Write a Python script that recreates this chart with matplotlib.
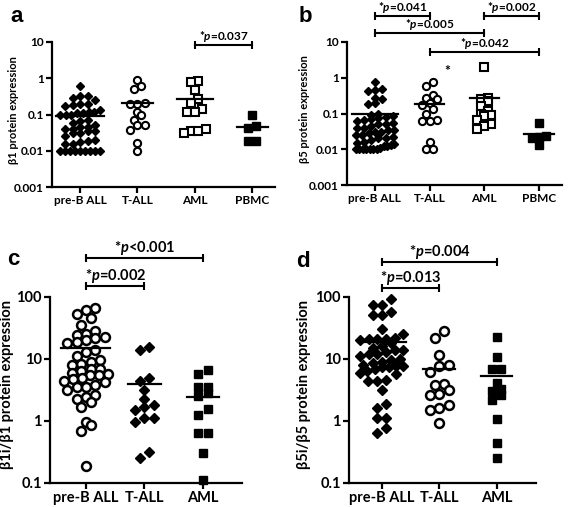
import numpy as np
import matplotlib
matplotlib.use("Agg")
import matplotlib.pyplot as plt

plt.rcParams['font.family'] = ['Lato', 'DejaVu Sans']
plt.rcParams['font.weight'] = 'bold'
plt.rcParams['mathtext.fontset'] = 'custom'
plt.rcParams['mathtext.rm'] = 'Lato:bold'
plt.rcParams['mathtext.it'] = 'Lato:italic:bold'
plt.rcParams['mathtext.bf'] = 'Lato:bold'

# ---- data ----
groups_ab = ['pre-B ALL', 'T-ALL', 'AML', 'PBMC']
groups_cd = ['pre-B ALL', 'T-ALL', 'AML']

# panel a: beta1 protein expression
a_preb = [0.62, 0.33, 0.33, 0.28, 0.25, 0.2, 0.2, 0.18, 0.17,
          0.13, 0.12, 0.12, 0.11, 0.11, 0.1, 0.1, 0.1,
          0.07, 0.065, 0.06, 0.05, 0.045, 0.045, 0.04, 0.04, 0.035, 0.035,
          0.03, 0.03, 0.025, 0.02, 0.018, 0.017, 0.015, 0.015,
          0.01, 0.01, 0.01, 0.01, 0.01, 0.01, 0.01, 0.01, 0.01]
a_tall = [0.88, 0.63, 0.52, 0.21, 0.2, 0.19, 0.12, 0.1, 0.07, 0.05, 0.05,
          0.037, 0.016, 0.01]
a_aml = [0.86, 0.78, 0.46, 0.26, 0.21, 0.14, 0.12, 0.12, 0.04, 0.035, 0.035, 0.031]
a_pbmc = [0.1, 0.047, 0.042, 0.018, 0.019]
a_means = [0.093, 0.21, 0.26, 0.044]

# panel b: beta5 protein expression
b_preb = [0.75, 0.48, 0.45, 0.42, 0.28, 0.25, 0.2, 0.18,
          0.1, 0.09, 0.085, 0.08, 0.075, 0.07, 0.065, 0.06, 0.055, 0.05, 0.05,
          0.045, 0.04, 0.04, 0.035, 0.035, 0.03, 0.03, 0.028, 0.025, 0.025,
          0.022, 0.02, 0.02, 0.018, 0.016, 0.015, 0.014, 0.013, 0.012, 0.012,
          0.011, 0.01, 0.01, 0.01, 0.01, 0.01, 0.01, 0.01]
b_tall = [0.74, 0.58, 0.32, 0.28, 0.25, 0.2, 0.17, 0.13, 0.1, 0.065, 0.063,
          0.06, 0.016, 0.01, 0.01]
b_aml = [2.0, 0.28, 0.26, 0.22, 0.16, 0.12, 0.1, 0.09, 0.085, 0.065, 0.05,
         0.045, 0.038]
b_pbmc = [0.053, 0.024, 0.022, 0.021, 0.013]
b_means = [0.1, 0.19, 0.28, 0.027]

# panel c: beta1i/beta1
c_preb = [66, 62, 53, 46, 36, 28, 25, 24, 23, 22, 20, 19, 18, 14, 13, 11,
          9.5, 9, 8.3, 8, 7, 7, 6.5, 6, 5.8, 5.6, 5.5, 5, 4.7, 4.5, 4.2,
          3.8, 3.5, 3.5, 3.2, 2.6, 2.4, 2.3, 2.0, 1.7, 0.95, 0.85, 0.7, 0.19]
c_tall = [15.7, 14.2, 5.0, 4.5, 3.2, 2.3, 1.8, 1.7, 1.5, 1.13, 1.12, 0.98,
          0.32, 0.25]
c_aml = [6.6, 5.7, 3.5, 3.5, 2.8, 2.5, 1.55, 1.25, 0.65, 0.63, 0.3, 0.11]
c_means = [14.8, 3.9, 2.4]

# panel d: beta5i/beta5
d_preb = [93, 75, 75, 58, 52, 52, 30, 25, 22, 21, 21, 21, 20, 18, 16, 15,
          14, 14, 13, 12, 12, 11, 10, 9.5, 9, 8.5, 8, 7.8, 7.6, 7.5, 7.3, 7,
          6.5, 6, 5.8, 4.6, 4.5, 4.4, 3.2, 1.9, 1.6, 1.1, 1.1, 0.78, 0.65]
d_tall = [28, 22, 11.5, 8, 7.8, 6.2, 4.0, 3.8, 3.2, 2.7, 2.6, 1.8, 1.6, 1.5, 0.92]
d_aml = [22.3, 10.6, 6.9, 6.8, 4.1, 3.3, 3.0, 2.6, 2.2, 1.08, 0.44, 0.25]
d_means = [19, 6.9, 5.3]

ticks_ab = [0.001, 0.01, 0.1, 1, 10]
ticklabels_ab = ['0.001', '0.01', '0.1', '1', '10']
ticks_cd = [0.1, 1, 10, 100]
ticklabels_cd = ['0.1', '1', '10', '100']


def spread(vals, bin_w, step, max_w):
    # prism-like rows: points with close values are laid side by side
    vals = np.asarray(vals, float)
    logs = np.log10(vals)
    order = np.argsort(logs)
    rows, cur = [], [order[0]]
    for i in order[1:]:
        if logs[i] - logs[cur[0]] < bin_w:
            cur.append(i)
        else:
            rows.append(cur)
            cur = [i]
    rows.append(cur)
    offs = np.zeros(len(vals))
    for r in rows:
        n = len(r)
        s = step if n < 2 else min(step, max_w / (n - 1))
        for k, i in enumerate(r):
            offs[i] = (k - (n - 1) / 2) * s
    return offs


def column(ax, x, vals, mean, style, bin_w, step, max_w):
    offs = spread(vals, bin_w, step, max_w)
    ax.plot(x + offs, vals, linestyle='none', clip_on=False, zorder=3, **style)
    hw = min(max(np.abs(offs).max() + 0.12, 0.27), 0.42)
    ax.plot([x - hw, x + hw], [mean, mean], color='black', lw=1.6, zorder=4)


def bracket(ax, x1, x2, yf, text, fs):
    tr = ax.get_xaxis_transform()
    ax.plot([x1, x2], [yf, yf], color='black', lw=1.5, transform=tr,
            clip_on=False, marker='|', markersize=6, mew=1.5)
    ax.annotate(text, xy=((x1 + x2) / 2, yf), xycoords=tr, xytext=(0, 0.6),
                textcoords='offset points', ha='center', va='bottom',
                fontsize=fs, fontweight='bold')


def style_axes(ax, groups, ticks, labels, ylim, xlim, ylabel, fs, labfs, labx):
    ax.set_yscale('log')
    ax.set_ylim(*ylim)
    ax.set_xlim(*xlim)
    ax.set_yticks(ticks)
    ax.set_yticklabels(labels)
    ax.minorticks_off()
    ax.set_xticks(range(1, len(groups) + 1))
    ax.set_xticklabels(groups)
    for s in ['top', 'right']:
        ax.spines[s].set_visible(False)
    for s in ['left', 'bottom']:
        ax.spines[s].set_linewidth(1.6)
    ax.tick_params(width=1.6, length=4, labelsize=fs, pad=2)
    ax.set_ylabel(ylabel, fontsize=labfs, fontweight='bold')
    ax.yaxis.set_label_coords(labx, 0.53)


fig = plt.figure(figsize=(5.68, 5.07), dpi=100)
W, H = 568, 507
ax_a = fig.add_axes([52 / W, (H - 187) / H, 223 / W, 145 / H])
ax_b = fig.add_axes([347 / W, (H - 185) / H, 215 / W, 143 / H])
ax_c = fig.add_axes([50 / W, (H - 483) / H, 192 / W, 186 / H])
ax_d = fig.add_axes([349 / W, (H - 483) / H, 187 / W, 186 / H])

dia_s = dict(marker='D', color='black', markersize=4.4)
circ_s = dict(marker='o', markerfacecolor='white', markeredgecolor='black',
              markersize=5.2, markeredgewidth=1.5)
osq_s = dict(marker='s', markerfacecolor='white', markeredgecolor='black',
             markersize=5.2, markeredgewidth=1.5)
fsq_s = dict(marker='s', color='black', markersize=5.4)

dia_l = dict(marker='D', color='black', markersize=5.4)
circ_l = dict(marker='o', markerfacecolor='white', markeredgecolor='black',
              markersize=6.4, markeredgewidth=1.8)
fsq_l = dict(marker='s', color='black', markersize=6.4)

fs_ab = 8.5
fs_cd = 10.5

# panel a
for i, (vals, st) in enumerate([(a_preb, dia_s), (a_tall, circ_s),
                                (a_aml, osq_s), (a_pbmc, fsq_s)]):
    column(ax_a, i + 1, vals, a_means[i], st, 0.17, 0.13, 0.7)
style_axes(ax_a, groups_ab, ticks_ab, ticklabels_ab, (0.001, 10), (0.51, 4.4),
           'β1 protein expression', fs_ab, 8, -0.148)
bracket(ax_a, 3, 4, 0.979, '*$p$=0.037', fs_ab)

# panel b
for i, (vals, st) in enumerate([(b_preb, dia_s), (b_tall, circ_s),
                                (b_aml, osq_s), (b_pbmc, fsq_s)]):
    column(ax_b, i + 1, vals, b_means[i], st, 0.17, 0.13, 0.7)
style_axes(ax_b, groups_ab, ticks_ab, ticklabels_ab, (0.001, 10), (0.49, 4.42),
           'β5 protein expression', fs_ab, 8, -0.17)
ax_b.text(2.33, 1.5, '*', fontsize=10, fontweight='bold', ha='center', va='center')
bracket(ax_b, 1, 2, 1.182, '*$p$=0.041', fs_ab)
bracket(ax_b, 3, 4, 1.182, '*$p$=0.002', fs_ab)
bracket(ax_b, 1, 3, 1.065, '*$p$=0.005', fs_ab)
bracket(ax_b, 2, 4, 0.93, '*$p$=0.042', fs_ab)

# panel c
for i, (vals, st) in enumerate([(c_preb, circ_l), (c_tall, dia_l), (c_aml, fsq_l)]):
    column(ax_c, i + 1, vals, c_means[i], st, 0.12, 0.16, 0.75)
style_axes(ax_c, groups_cd, ticks_cd, ticklabels_cd, (0.1, 100), (0.385, 3.67),
           'β1i/β1 protein expression', fs_cd, fs_cd, -0.185)
bracket(ax_c, 1, 3, 1.21, '*$p$<0.001', fs_cd)
bracket(ax_c, 1, 2, 1.06, '*$p$=0.002', fs_cd)

# panel d
for i, (vals, st) in enumerate([(d_preb, dia_l), (d_tall, circ_l), (d_aml, fsq_l)]):
    column(ax_d, i + 1, vals, d_means[i], st, 0.12, 0.16, 0.75)
style_axes(ax_d, groups_cd, ticks_cd, ticklabels_cd, (0.1, 100), (0.43, 3.68),
           'β5i/β5 protein expression', fs_cd, fs_cd, -0.205)
bracket(ax_d, 1, 3, 1.19, '*$p$=0.004', fs_cd)
bracket(ax_d, 1, 2, 1.05, '*$p$=0.013', fs_cd)

for x, y, t in [(0.018, 0.957, 'a'), (0.526, 0.957, 'b'),
                (0.012, 0.477, 'c'), (0.522, 0.473, 'd')]:
    fig.text(x, y, t, fontsize=16, fontweight='bold', family='Liberation Sans')

fig.savefig('out.png', dpi=100)
